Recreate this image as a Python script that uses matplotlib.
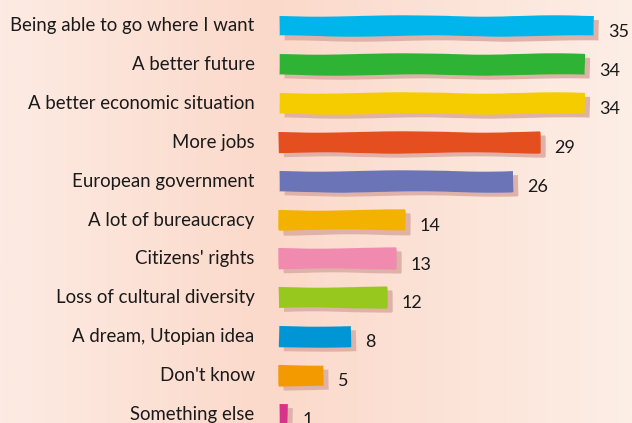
import matplotlib
matplotlib.use("Agg")
import matplotlib.pyplot as plt
import matplotlib.patheffects as pe
from matplotlib.colors import LinearSegmentedColormap
import numpy as np

# data
labels = ["Being able to go where I want", "A better future", "A better economic situation",
          "More jobs", "European government", "A lot of bureaucracy", "Citizens' rights",
          "Loss of cultural diversity", "A dream, Utopian idea", "Don't know", "Something else"]
values = [35, 34, 34, 29, 26, 14, 13, 12, 8, 5, 1]
colors = ["#00b5ec", "#2eb335", "#f5cc00", "#e54e1f", "#6a74b6", "#f4b200",
          "#f08aae", "#96c81e", "#0096d6", "#f29a00", "#d6338a"]

plt.rcParams['font.family'] = ['Lato', 'DejaVu Sans']

fig = plt.figure(figsize=(6.32, 4.23), dpi=100)
ax = fig.add_axes([0, 0, 1, 1])

px = 9.0              # pixels per unit
x0, x1 = -279 / px, (632 - 279) / px
step = 38.8
y_top, y_bot = -26 / step, (423 - 26) / step
ax.set_xlim(x0, x1)
ax.set_ylim(y_bot, y_top)
ax.axis('off')

# background gradient
bg = LinearSegmentedColormap.from_list("bg", [(0, "#fdebe3"), (0.43, "#fbd9ca"), (1, "#fdeee6")])
grad = np.linspace(0, 1, 256).reshape(1, -1)
ax.imshow(grad, cmap=bg, aspect='auto', extent=(x0, x1, y_bot, y_top), zorder=0)

ypos = np.arange(len(values))
bars = ax.barh(ypos, values, height=0.54, color=colors, zorder=2)
for b in bars:
    b.set_sketch_params(scale=0.7, length=220, randomness=4)
    b.set_path_effects([pe.SimplePatchShadow(offset=(3.6, -2.9), shadow_rgbFace="#dfb2a9", alpha=1),
                        pe.Normal()])

for y, lab, v in zip(ypos, labels, values):
    ax.text(-2.7, y, lab, ha='right', va='center', fontsize=13.4, color="#1a1a1a")
    ax.text(v + 1.6, y + 0.15, str(v), ha='left', va='center', fontsize=13, color="#1a1a1a")

fig.savefig("out.png", dpi=100)
